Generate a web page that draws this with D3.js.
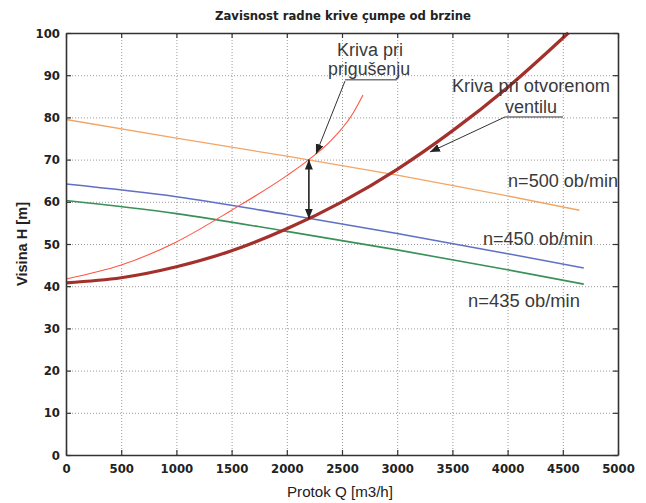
<!DOCTYPE html>
<html>
<head>
<meta charset="utf-8">
<script src="https://cdn.jsdelivr.net/npm/d3@7"></script>
<style>
  body { margin: 0; background: #fff; }
  svg { display: block; font-family: "Liberation Sans", Arial, sans-serif; }
</style>
</head>
<body>
<svg id="chart" width="646" height="503"></svg>
<script>
// tick values
const qTicks = [0, 500, 1000, 1500, 2000, 2500, 3000, 3500, 4000, 4500, 5000];
const hTicks = [0, 10, 20, 30, 40, 50, 60, 70, 80, 90, 100];

// pump curves (Q m3/h, H m)
const qN500 = [0, 1000, 2000, 3000, 4000, 4650];
const hN500 = [79.5, 75.1, 70.8, 66.3, 61.4, 58.0];
const qN450 = [0, 1000, 2000, 3000, 4000, 4690];
const hN450 = [64.2, 61.2, 57.0, 52.5, 47.7, 44.3];
const qN435 = [0, 1000, 2000, 3000, 4000, 4690];
const hN435 = [60.3, 57.2, 53.0, 48.6, 43.9, 40.5];

// system curves
const qOpen = [0, 500, 1000, 1500, 2000, 2500, 3000, 3500, 4000, 4550];
const hOpen = [40.8, 42.0, 44.6, 48.4, 53.6, 60.0, 67.7, 76.8, 87.1, 100];
const qThrottle = [0, 500, 1000, 1500, 2000, 2200, 2400, 2600, 2690];
const hThrottle = [41.7, 45.0, 50.5, 58.0, 66.2, 70.0, 74.5, 81.0, 85.3];

// operating points joined by the double arrow
const opQ = 2200;
const opHigh = 70.0;
const opLow = 56.0;

const width = 646, height = 503;
const margin = { top: 33, right: 28, bottom: 48, left: 66 };

const svg = d3.select('#chart');

const x = d3.scaleLinear().domain([0, 5000]).range([margin.left, width - margin.right]);
const y = d3.scaleLinear().domain([0, 100]).range([height - margin.bottom, margin.top]);

const plotW = x.range()[1] - x.range()[0];
const plotH = y.range()[0] - y.range()[1];

// grid
svg.append('g')
   .attr('transform', `translate(0,${y(0)})`)
   .call(d3.axisBottom(x).tickValues(qTicks).tickSize(-plotH).tickFormat(''))
   .call(g => g.select('.domain').remove())
   .call(g => g.selectAll('line').attr('stroke', '#9a9a9a').attr('stroke-dasharray', '1,2'));
svg.append('g')
   .attr('transform', `translate(${x(0)},0)`)
   .call(d3.axisLeft(y).tickValues(hTicks).tickSize(-plotW).tickFormat(''))
   .call(g => g.select('.domain').remove())
   .call(g => g.selectAll('line').attr('stroke', '#9a9a9a').attr('stroke-dasharray', '1,2'));

// lines
const line = d3.line().x(d => x(d[0])).y(d => y(d[1])).curve(d3.curveMonotoneX);
const series = [
  { q: qN500, h: hN500, color: '#f2a564', w: 1.3 },
  { q: qN450, h: hN450, color: '#5f70c6', w: 1.6 },
  { q: qN435, h: hN435, color: '#3a9058', w: 1.6 },
  { q: qThrottle, h: hThrottle, color: '#ff5544', w: 1.1 },
  { q: qOpen, h: hOpen, color: '#a3302a', w: 3.2 }
];
series.forEach(s => {
  svg.append('path')
     .datum(s.q.map((q, i) => [q, s.h[i]]))
     .attr('fill', 'none')
     .attr('stroke', s.color)
     .attr('stroke-width', s.w)
     .attr('d', line);
});

// axes box
const axisColor = '#333';
const fmt = d3.format('d');
const styleAxis = g => {
  g.select('.domain').attr('stroke', axisColor).attr('stroke-width', 1.6);
  g.selectAll('.tick line').attr('stroke', axisColor).attr('stroke-width', 1.2);
  g.selectAll('text').attr('fill', '#222').attr('font-size', 13)
   .attr('font-family', '"DejaVu Sans Condensed", "Liberation Sans", sans-serif')
   .attr('font-weight', 'bold');
};
svg.append('g')
   .attr('transform', `translate(0,${y(0)})`)
   .call(d3.axisBottom(x).tickValues(qTicks).tickFormat(fmt).tickSizeInner(-5).tickSizeOuter(0).tickPadding(9))
   .call(styleAxis);
svg.append('g')
   .attr('transform', `translate(${x(0)},0)`)
   .call(d3.axisLeft(y).tickValues(hTicks).tickFormat(fmt).tickSizeInner(-5).tickSizeOuter(0).tickPadding(6))
   .call(styleAxis);
svg.append('g')
   .attr('transform', `translate(0,${y(100)})`)
   .call(d3.axisTop(x).tickValues(qTicks).tickSizeInner(-5).tickSizeOuter(0).tickFormat(''))
   .call(styleAxis);
svg.append('g')
   .attr('transform', `translate(${x(5000)},0)`)
   .call(d3.axisRight(y).tickValues(hTicks).tickSizeInner(-5).tickSizeOuter(0).tickFormat(''))
   .call(styleAxis);

// titles
svg.append('text')
   .attr('x', 343).attr('y', 20)
   .attr('text-anchor', 'middle')
   .attr('font-family', '"DejaVu Sans Condensed", "Liberation Sans", sans-serif')
   .attr('font-weight', 'bold').attr('font-size', 13).attr('fill', '#222')
   .attr('textLength', 256).attr('lengthAdjust', 'spacingAndGlyphs')
   .text('Zavisnost radne krive çumpe od brzine');
svg.append('text')
   .attr('x', 340).attr('y', 497)
   .attr('text-anchor', 'middle')
   .attr('font-size', 14).attr('fill', '#222')
   .attr('textLength', 106).attr('lengthAdjust', 'spacingAndGlyphs')
   .text('Protok Q [m3/h]');
svg.append('text')
   .attr('transform', `translate(27,${y(50)}) rotate(-90)`)
   .attr('text-anchor', 'middle')
   .attr('font-size', 14).attr('font-weight', 'bold').attr('fill', '#222')
   .attr('textLength', 84).attr('lengthAdjust', 'spacingAndGlyphs')
   .text('Visina H [m]');

// arrowheads
const defs = svg.append('defs');
defs.append('marker')
    .attr('id', 'head')
    .attr('viewBox', '0 0 10 10')
    .attr('refX', 10).attr('refY', 5)
    .attr('markerWidth', 10).attr('markerHeight', 10)
    .attr('markerUnits', 'userSpaceOnUse')
    .attr('orient', 'auto-start-reverse')
    .append('path').attr('d', 'M0,1 L10,5 L0,9 Z').attr('fill', '#222');

// double arrow between the two operating points
svg.append('line')
   .attr('x1', x(opQ)).attr('y1', y(opHigh))
   .attr('x2', x(opQ)).attr('y2', y(opLow))
   .attr('stroke', '#222').attr('stroke-width', 1.6)
   .attr('marker-start', 'url(#head)').attr('marker-end', 'url(#head)');

// annotation text
const note = (q, h, txt, len, anchor) => svg.append('text')
   .attr('x', x(q)).attr('y', y(h))
   .attr('text-anchor', anchor || 'start')
   .attr('font-size', 18).attr('fill', '#3a3a3a')
   .attr('textLength', len).attr('lengthAdjust', 'spacingAndGlyphs')
   .text(txt);

note(2754, 94.5, 'Kriva pri', 66, 'middle');
note(2745, 90.0, 'prigušenju', 82, 'middle');
note(3496, 86.0, 'Kriva pri otvorenom', 158);
note(3976, 81.0, 'ventilu', 52);
note(4004, 63.5, 'n=500 ob/min', 110);
note(3777, 49.8, 'n=450 ob/min', 110);
note(3641, 35.1, 'n=435 ob/min', 112);

// underlines and leaders
const seg = (q1, h1, q2, h2, arrow) => {
  const l = svg.append('line')
     .attr('x1', x(q1)).attr('y1', y(h1))
     .attr('x2', x(q2)).attr('y2', y(h2))
     .attr('stroke', '#333').attr('stroke-width', 1);
  if (arrow) l.attr('marker-end', 'url(#head)');
};
seg(2527, 88.9, 2998, 88.9);
seg(2527, 88.6, 2264, 71.3, true);
seg(3976, 80.1, 4502, 80.1);
seg(3976, 80.1, 3297, 71.8, true);
</script>
</body>
</html>
